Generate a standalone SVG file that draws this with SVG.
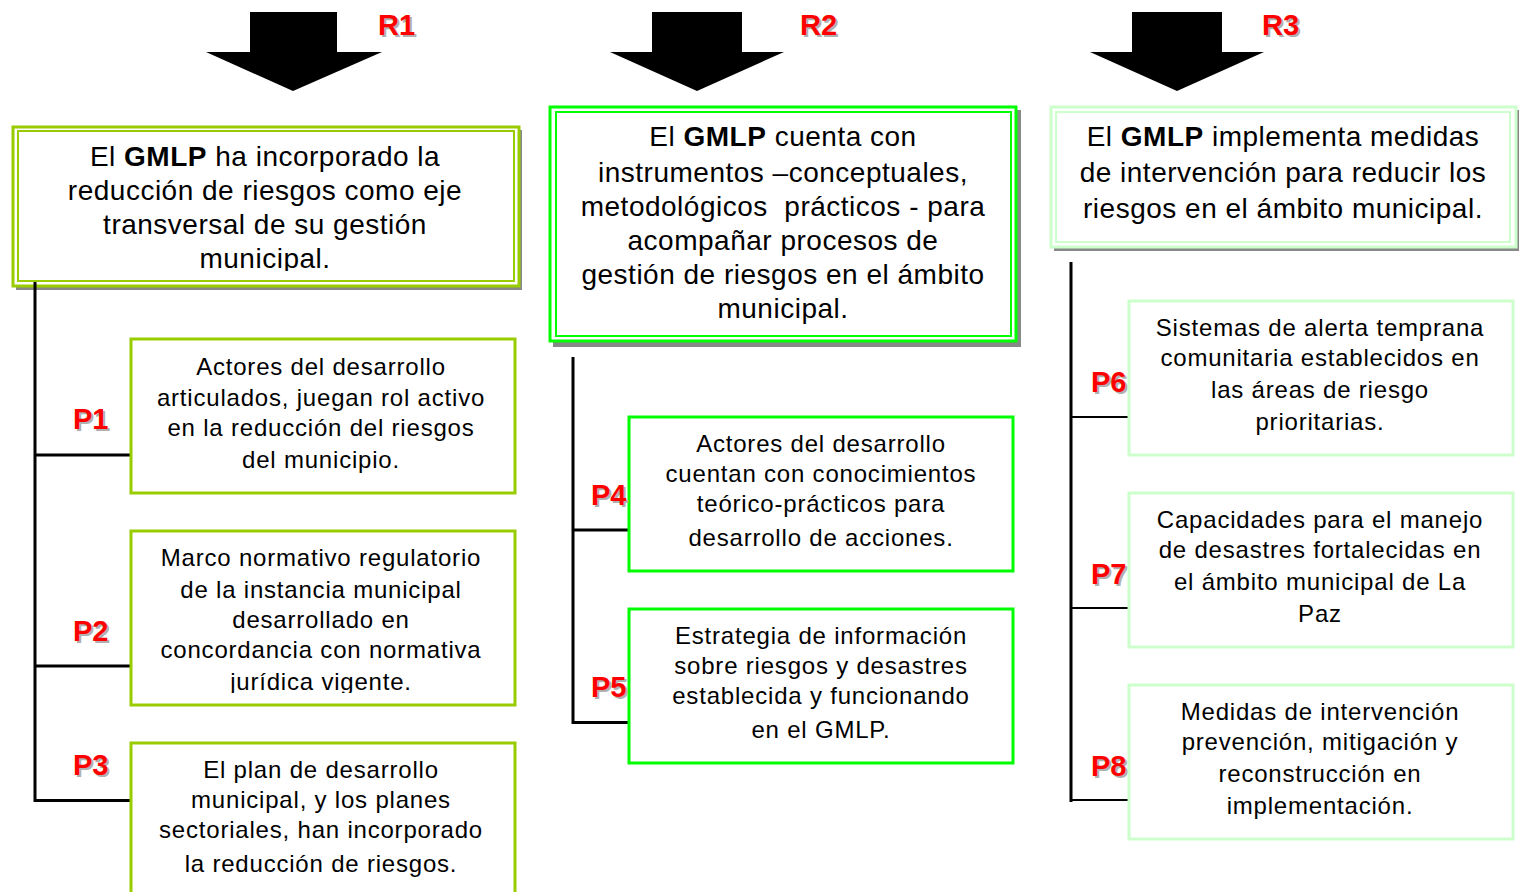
<svg xmlns="http://www.w3.org/2000/svg" width="1519" height="892" viewBox="0 0 1519 892">
<style>
.t{font-family:"Liberation Sans",Arial,sans-serif;fill:#000;text-anchor:middle}
.big{font-size:28px;letter-spacing:0.5px}
.sm{font-size:24px;letter-spacing:0.8px}
.lab{font-family:"Liberation Sans",Arial,sans-serif;font-weight:bold;font-size:29px;fill:#ff0000}
.sh{font-family:"Liberation Sans",Arial,sans-serif;font-weight:bold;font-size:29px;fill:#b0b0b0}
.ln{stroke:#000;stroke-width:3;fill:none}
.b1{fill:#fff;stroke:#99cc00;stroke-width:3}
.b2{fill:#fff;stroke:#00ff00;stroke-width:3}
.b3{fill:#fff;stroke:#ccffcc;stroke-width:3}
.arr{fill:#000}
</style>
<defs>
<clipPath id="c1"><rect x="18" y="131" width="496" height="140"/></clipPath>
<clipPath id="c2"><rect x="130" y="530" width="386" height="163"/></clipPath>
</defs>
<rect width="1519" height="892" fill="#fff"/>

<g id="arrow1"><polygon class="arr" points="250,12 337,12 337,52 382,52 293,91 206,52 250,52"/>
<text class="sh" x="380" y="37">R1</text><text class="lab" x="378" y="35">R1</text></g>
<g id="arrow2"><polygon class="arr" points="652,12 742,12 742,52 784,52 697,91 610,52 652,52"/>
<text class="sh" x="802" y="37">R2</text><text class="lab" x="800" y="35">R2</text></g>
<g id="arrow3"><polygon class="arr" points="1132,12 1222,12 1222,52 1264,52 1177,91 1090,52 1132,52"/>
<text class="sh" x="1264" y="37">R3</text><text class="lab" x="1262" y="35">R3</text></g>

<g id="R1">
<rect x="16" y="130" width="506" height="160" fill="#888"/>
<rect x="13" y="127" width="506" height="159" fill="#fff" stroke="#99cc00" stroke-width="3"/>
<rect x="18" y="131" width="496" height="150" fill="#fff" stroke="#99cc00" stroke-width="2"/>
<g clip-path="url(#c1)">
<text class="t big" x="265" y="166">El <tspan font-weight="bold">GMLP</tspan> ha incorporado la</text>
<text class="t big" x="265" y="200">reducción de riesgos como eje</text>
<text class="t big" x="265" y="234">transversal de su gestión</text>
<text class="t big" x="265" y="268">municipal.</text>
</g>
</g>

<g id="R2">
<rect x="553" y="110" width="468" height="237" fill="#888"/>
<rect x="550" y="107" width="466" height="234" fill="#fff" stroke="#00ff00" stroke-width="3"/>
<rect x="556" y="112" width="455" height="224" fill="#fff" stroke="#00ff00" stroke-width="2"/>
<text class="t big" x="783" y="146">El <tspan font-weight="bold">GMLP</tspan> cuenta con</text>
<text class="t big" x="783" y="182">instrumentos –conceptuales,</text>
<text class="t big" x="783" y="216" xml:space="preserve">metodológicos  prácticos - para</text>
<text class="t big" x="783" y="250">acompañar procesos de</text>
<text class="t big" x="783" y="284">gestión de riesgos en el ámbito</text>
<text class="t big" x="783" y="318">municipal.</text>
</g>

<g id="R3">
<rect x="1054" y="110" width="465" height="141" fill="#888"/>
<rect x="1051" y="107" width="465" height="140" fill="#fff" stroke="#ccffcc" stroke-width="3"/>
<rect x="1056" y="112" width="454" height="130" fill="#fff" stroke="#ccffcc" stroke-width="2"/>
<text class="t big" x="1283" y="146">El <tspan font-weight="bold">GMLP</tspan> implementa medidas</text>
<text class="t big" x="1283" y="182">de intervención para reducir los</text>
<text class="t big" x="1283" y="218">riesgos en el ámbito municipal.</text>
</g>

<g id="connectors">
<line class="ln" x1="35" y1="282" x2="35" y2="802"/>
<line class="ln" x1="35" y1="455" x2="131" y2="455"/>
<line class="ln" x1="35" y1="666" x2="131" y2="666"/>
<line class="ln" x1="35" y1="800.5" x2="131" y2="800.5"/>
<line class="ln" x1="573" y1="357" x2="573" y2="724"/>
<line class="ln" x1="573" y1="530" x2="628" y2="530"/>
<line class="ln" x1="573" y1="722.5" x2="628" y2="722.5"/>
<line class="ln" x1="1071" y1="262" x2="1071" y2="802"/>
<line stroke="#000" stroke-width="2" x1="1071" y1="417" x2="1128" y2="417"/>
<line stroke="#000" stroke-width="2" x1="1071" y1="608" x2="1128" y2="608"/>
<line stroke="#000" stroke-width="2" x1="1071" y1="800" x2="1128" y2="800"/>
</g>

<g id="P1">
<rect class="b1" x="131" y="339" width="384" height="154"/>
<text class="sh" x="75" y="431">P1</text><text class="lab" x="73" y="429">P1</text>
<text class="t sm" x="321" y="375">Actores del desarrollo</text>
<text class="t sm" x="321" y="406">articulados, juegan rol activo</text>
<text class="t sm" x="321" y="436">en la reducción del riesgos</text>
<text class="t sm" x="321" y="468">del municipio.</text>
</g>

<g id="P2">
<rect class="b1" x="131" y="531" width="384" height="174"/>
<text class="sh" x="75" y="643">P2</text><text class="lab" x="73" y="641">P2</text>
<g clip-path="url(#c2)">
<text class="t sm" x="321" y="566">Marco normativo regulatorio</text>
<text class="t sm" x="321" y="598">de la instancia municipal</text>
<text class="t sm" x="321" y="628">desarrollado en</text>
<text class="t sm" x="321" y="658">concordancia con normativa</text>
<text class="t sm" x="321" y="690">jurídica vigente.</text>
</g>
</g>

<g id="P3">
<path class="b1" d="M131,894 V743 H515 V894"/>
<text class="sh" x="75" y="777">P3</text><text class="lab" x="73" y="775">P3</text>
<text class="t sm" x="321" y="778">El plan de desarrollo</text>
<text class="t sm" x="321" y="808">municipal, y los planes</text>
<text class="t sm" x="321" y="838">sectoriales, han incorporado</text>
<text class="t sm" x="321" y="872">la reducción de riesgos.</text>
</g>

<g id="P4">
<rect class="b2" x="629" y="417" width="384" height="154"/>
<text class="sh" x="593" y="507">P4</text><text class="lab" x="591" y="505">P4</text>
<text class="t sm" x="821" y="452">Actores del desarrollo</text>
<text class="t sm" x="821" y="482">cuentan con conocimientos</text>
<text class="t sm" x="821" y="512">teórico-prácticos para</text>
<text class="t sm" x="821" y="546">desarrollo de acciones.</text>
</g>

<g id="P5">
<rect class="b2" x="629" y="609" width="384" height="154"/>
<text class="sh" x="593" y="699">P5</text><text class="lab" x="591" y="697">P5</text>
<text class="t sm" x="821" y="644">Estrategia de información</text>
<text class="t sm" x="821" y="674">sobre riesgos y desastres</text>
<text class="t sm" x="821" y="704">establecida y funcionando</text>
<text class="t sm" x="821" y="738">en el GMLP.</text>
</g>

<g id="P6">
<rect class="b3" x="1129" y="301" width="384" height="154"/>
<text class="sh" x="1093" y="394">P6</text><text class="lab" x="1091" y="392">P6</text>
<text class="t sm" x="1320" y="336">Sistemas de alerta temprana</text>
<text class="t sm" x="1320" y="366">comunitaria establecidos en</text>
<text class="t sm" x="1320" y="398">las áreas de riesgo</text>
<text class="t sm" x="1320" y="430">prioritarias.</text>
</g>

<g id="P7">
<rect class="b3" x="1129" y="493" width="384" height="154"/>
<text class="sh" x="1093" y="586">P7</text><text class="lab" x="1091" y="584">P7</text>
<text class="t sm" x="1320" y="528">Capacidades para el manejo</text>
<text class="t sm" x="1320" y="558">de desastres fortalecidas en</text>
<text class="t sm" x="1320" y="590">el ámbito municipal de La</text>
<text class="t sm" x="1320" y="622">Paz</text>
</g>

<g id="P8">
<rect class="b3" x="1129" y="685" width="384" height="154"/>
<text class="sh" x="1093" y="778">P8</text><text class="lab" x="1091" y="776">P8</text>
<text class="t sm" x="1320" y="720">Medidas de intervención</text>
<text class="t sm" x="1320" y="750">prevención, mitigación y</text>
<text class="t sm" x="1320" y="782">reconstrucción en</text>
<text class="t sm" x="1320" y="814">implementación.</text>
</g>
</svg>
